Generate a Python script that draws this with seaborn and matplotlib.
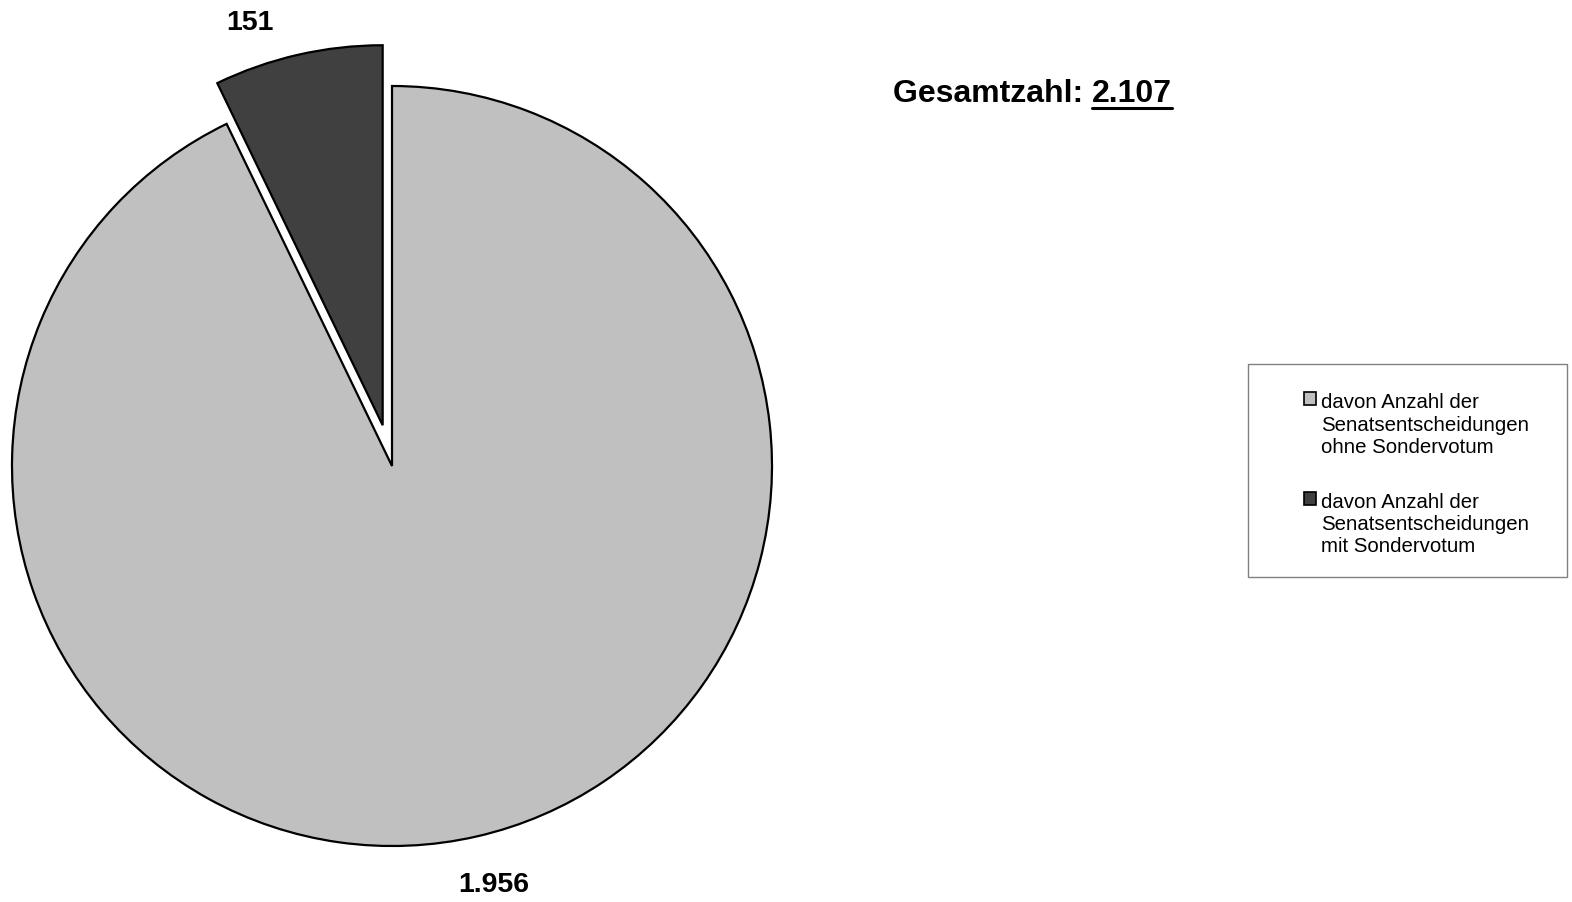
import matplotlib
matplotlib.use('Agg')
import matplotlib.pyplot as plt
from matplotlib.lines import Line2D
from matplotlib.patches import Rectangle
import seaborn as sns

categories = ['davon Anzahl der\nSenatsentscheidungen\nohne Sondervotum',
              'davon Anzahl der\nSenatsentscheidungen\nmit Sondervotum']
values = [1956, 151]
value_labels = ['1.956', '151']
total_label = '2.107'
colors = ['#c0c0c0', '#404040']

sns.set_theme(style='white')
plt.rcParams['font.family'] = ['Liberation Sans', 'DejaVu Sans']
plt.rcParams['text.color'] = 'black'

W, H = 1572, 903
fig = plt.figure(figsize=(W / 100, H / 100), dpi=100)
ax = fig.add_axes([0, 0, 1, 1])

# pie center (392, 467) px, radius 380 px
cx, cy, r = 392, 467, 380
wedges, texts = ax.pie(values, labels=value_labels, colors=colors, startangle=90,
                       counterclock=False, explode=[0, 0.11], labeldistance=1.12,
                       wedgeprops=dict(edgecolor='black', linewidth=1.6),
                       textprops=dict(fontsize=20.5, fontweight='bold', color='black'))
ax.set_xlim((0 - cx) / r, (W - cx) / r)
ax.set_ylim((cy - H) / r, cy / r)
ax.set_axis_off()

# label positions like the original
texts[0].set_position(((494 - cx) / r, (cy - 885) / r))
texts[1].set_position(((250 - cx) / r, (cy - 23) / r))
for t in texts:
    t.set_ha('center')
    t.set_va('center')

# total with underlined number
ty = 1 - 94 / H
t1 = fig.text(893 / W, ty, 'Gesamtzahl: ', fontsize=23, fontweight='bold',
              ha='left', va='center', color='black')
fig.canvas.draw()
renderer = fig.canvas.get_renderer()
bb1 = t1.get_window_extent(renderer)
t2 = fig.text(bb1.x1 / W, ty, total_label, fontsize=23, fontweight='bold',
              ha='left', va='center', color='black')
bb2 = t2.get_window_extent(renderer)
uy = (H - 109) / H
fig.add_artist(Line2D([bb2.x0 / W, bb2.x1 / W], [uy, uy], color='black', linewidth=2.2,
                      transform=fig.transFigure))

# legend box
fig.add_artist(Rectangle((1248 / W, 1 - 578 / H), (1567 - 1248) / W, (578 - 365) / H,
                         transform=fig.transFigure, facecolor='white',
                         edgecolor='#808080', linewidth=1, zorder=-1))
leg = ax.legend(wedges, categories, loc='upper left',
                bbox_to_anchor=(1294 / W, 1 - 383 / H), bbox_transform=fig.transFigure,
                frameon=False, fontsize=14.7, handlelength=0.6, handleheight=0.6,
                handletextpad=0.2, labelspacing=1.75, borderpad=0)
for txt in leg.get_texts():
    txt.set_linespacing(1.22)
for h in leg.legend_handles:
    h.set_linewidth(1.2)
# handle next to the first line of each label
for col in leg._legend_handle_box.get_children():
    for row in col.get_children():
        row.align = 'top'

fig.savefig('out.png', dpi=100)
